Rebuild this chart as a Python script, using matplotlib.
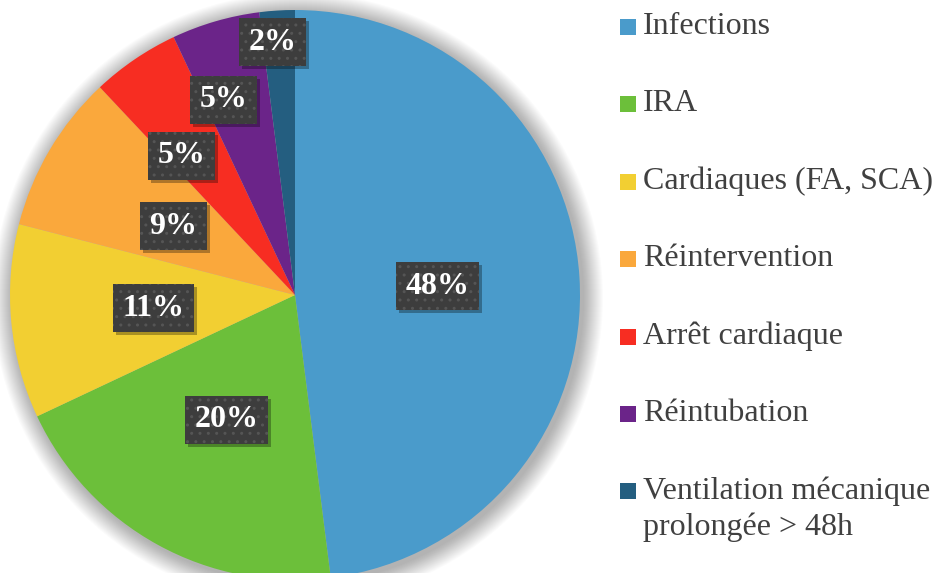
import numpy as np
import matplotlib
matplotlib.use('Agg')
import matplotlib.pyplot as plt
from matplotlib.patches import Circle, Rectangle

plt.rcParams['font.family'] = ['Liberation Serif', 'DejaVu Serif']

# données
categories = ['Infections', 'IRA', 'Cardiaques (FA, SCA)', 'Réintervention',
              'Arrêt cardiaque', 'Réintubation',
              'Ventilation mécanique\nprolongée > 48h']
values = [48, 20, 11, 9, 5, 5, 2]
colors = ['#4a9bcb', '#6cbf3a', '#f2cf32', '#faa83c', '#f72d22', '#6b2489', '#245e80']

# placement des étiquettes (fraction du rayon, décalage angulaire en degrés)
lab_dist = [0.5, 0.5, 0.5, 0.49, 0.63, 0.73, 0.89]
lab_turn = [0, 0, 0, 1, 5, 4, 1.5]

W, H = 937, 573
fig = plt.figure(figsize=(W / 100, H / 100), dpi=100)
ax = fig.add_axes([0, 0, 1, 1])

cx, cy, R = 295, H - 295, 285

# ombre douce autour du camembert
for k in range(20, 0, -1):
    ax.add_patch(Circle((cx + 3, cy - 3), R + k, color='#000000',
                        alpha=0.014, lw=0, zorder=0))

wedges, _ = ax.pie(values, colors=colors, startangle=90, counterclock=False,
                   center=(cx, cy), radius=R,
                   wedgeprops=dict(linewidth=0, zorder=2))

labels = []
for w, v, d, t in zip(wedges, values, lab_dist, lab_turn):
    ang = np.deg2rad((w.theta1 + w.theta2) / 2 + t)
    x = cx + d * R * np.cos(ang)
    y = cy + d * R * np.sin(ang)
    txt = ax.text(x, y, f'{v}%', ha='center', va='center', color='white',
                  fontsize=23, fontweight='bold', zorder=5,
                  bbox=dict(boxstyle='square,pad=0.3', facecolor='#3d3d3d',
                            edgecolor='#555555', linewidth=0, hatch='..'))
    labels.append(txt)

# légende
for i, (lab, col) in enumerate(zip(categories, colors)):
    yc = H - (27 + i * 77.4)
    ax.add_patch(Rectangle((620, yc - 8), 16, 16, facecolor=col, lw=0))
    ax.text(643, yc + 15, lab, ha='left', va='top', fontsize=23,
            color='#404040', linespacing=1.3)

ax.set_xlim(0, W)
ax.set_ylim(0, H)
ax.set_aspect('equal')
ax.axis('off')

# ombre des boîtes d'étiquettes
fig.canvas.draw()
inv = ax.transData.inverted()
for txt in labels:
    bb = txt.get_bbox_patch().get_window_extent()
    (x0, y0), (x1, y1) = inv.transform([(bb.x0, bb.y0), (bb.x1, bb.y1)])
    ax.add_patch(Rectangle((x0 + 3, y0 - 3), x1 - x0, y1 - y0,
                           facecolor='black', alpha=0.3, lw=0, zorder=4))

fig.savefig('out.png', dpi=100)
